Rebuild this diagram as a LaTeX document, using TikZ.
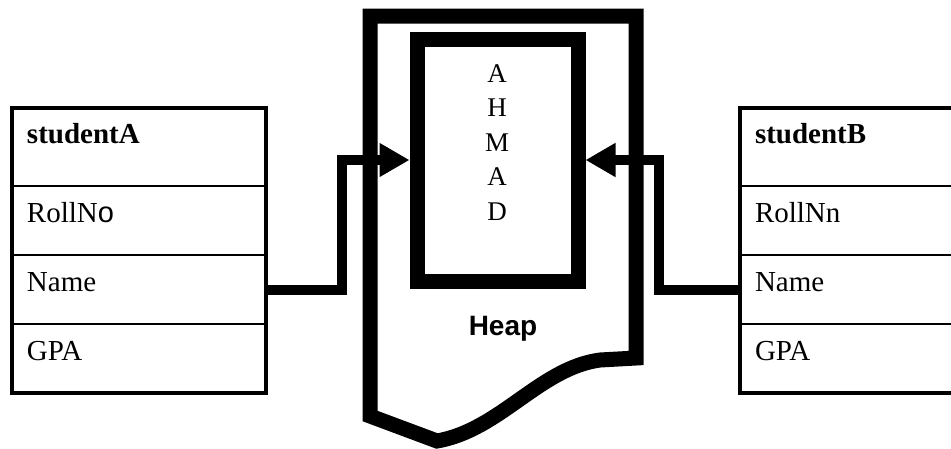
\documentclass[tikz,border=0pt]{standalone}
\usepackage{fontspec}
\setmainfont{Liberation Serif}
\setsansfont{Liberation Sans}
\usetikzlibrary{arrows.meta, positioning}

\begin{document}
\begin{tikzpicture}[x=1pt, y=-1pt, >={Triangle[length=30pt, width=32pt]},
  row/.style={draw, line width=1.5pt, outer sep=0pt, minimum width=254pt, minimum height=69pt,
    inner xsep=15pt, inner ysep=0pt, text width=224pt, align=left,
    text height=22pt, text depth=19pt, font=\fontsize{29}{34}\selectfont},
  head/.style={row, minimum height=78pt, text depth=29pt, font=\bfseries\fontsize{29}{34}\selectfont},
  conn/.style={->, line width=10pt, line join=miter}]
  \useasboundingbox (0,0) rectangle (951,448);
  % heap
  \draw[line width=15pt, line join=miter] (370,416) -- (370,16) -- (636,16) -- (636,358) -- (600,360)
    .. controls (540,368) and (500,430) .. (437,441) -- cycle;
  \node[draw, line width=15pt, minimum width=161pt, minimum height=242pt, inner sep=0pt] (ahmad) at (497.5,160) {};
  \node[anchor=north, inner sep=0pt, align=center, font=\fontsize{27}{34.5}\selectfont] (name) at (497,64) {A\\H\\M\\A\\D};
  \node[anchor=base, font=\sffamily\bfseries\fontsize{28}{34}\selectfont] (heap) at (503,335) {Heap};
  % studentA
  \node[head] (sa) at (139,147) {studentA};
  \node[row, below=0pt of sa] (sa1) {RollN{\sffamily o}};
  \node[row, below=0pt of sa1] (sa2) {Name};
  \node[row, below=0pt of sa2] (sa3) {GPA};
  \draw[line width=4pt] (sa.north west) rectangle (sa3.south east);
  % studentB
  \node[head] (sb) at (867,147) {studentB};
  \node[row, below=0pt of sb] (sb1) {RollNn};
  \node[row, below=0pt of sb1] (sb2) {Name};
  \node[row, below=0pt of sb2] (sb3) {GPA};
  \draw[line width=4pt] (sb.north west) rectangle (sb3.south east);
  % references
  \draw[conn] (sa2.east) -- ++(76,0) |- (ahmad.west);
  \draw[conn] (sb2.west) -- ++(-81,0) |- (ahmad.east);
\end{tikzpicture}
\end{document}
